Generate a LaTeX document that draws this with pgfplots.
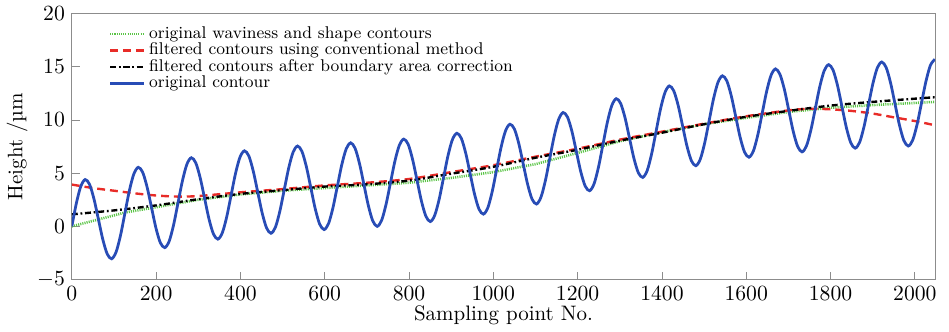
\documentclass[border=0pt]{standalone}
\usepackage{pgfplots}
\pgfplotsset{compat=1.18}
\definecolor{cblue}{RGB}{40,76,182}
\definecolor{cred}{RGB}{232,44,40}
\definecolor{cgreen}{RGB}{90,196,70}
\definecolor{cframe}{RGB}{140,140,140}
\begin{document}
\begin{tikzpicture}
\begin{axis}[
  scale only axis,
  width=436.5pt, height=134.5pt,
  xmin=0, xmax=2048, ymin=-5, ymax=20,
  xtick={0,200,...,2000}, ytick={-5,0,5,10,15,20},
  /pgf/number format/1000 sep={},
  tick pos=left, tick align=inside,
  major tick length=4pt,
  axis line style={cframe},
  every tick/.style={cframe},
  xlabel={Sampling point No.},
  ylabel={Height /µm},
  xlabel style={yshift=4pt},
  ylabel style={yshift=-2pt},
  tick label style={font=\fontsize{10.6}{12}\selectfont},
  label style={font=\fontsize{10.6}{12}\selectfont},
  legend style={at={(0.04,0.975)}, anchor=north west, draw=none, fill=none,
    font=\fontsize{8.6}{8.6}\selectfont, row sep=-3.2pt, inner sep=1pt},
  legend cell align=left,
]
\addplot[cgreen, line width=1.3pt, dash pattern=on 0.55pt off 0.55pt] coordinates {
(0,0) (63,0.65) (126,1.3) (200,1.8) (300,2.5) (400,3.0) (500,3.35) (600,3.6)
(700,3.85) (800,4.1) (900,4.55) (1000,5.1) (1100,5.85) (1200,6.9) (1300,8.0)
(1400,8.85) (1500,9.6) (1600,10.2) (1700,10.75) (1800,11.15) (1900,11.4)
(2000,11.6) (2048,11.7)};
\addlegendentry{original waviness and shape contours}
\addplot[cred, line width=1.2pt, dash pattern=on 4pt off 2.5pt, smooth] coordinates {
(0,3.93) (50,3.6) (100,3.35) (150,3.1) (200,2.9) (250,2.8) (300,2.85) (400,3.2)
(500,3.5) (600,3.85) (700,4.1) (800,4.45) (900,5.1) (1000,5.75) (1100,6.55)
(1200,7.3) (1300,8.15) (1400,8.9) (1500,9.65) (1600,10.35) (1700,10.9)
(1750,11.05) (1800,11.0) (1850,10.85) (1900,10.6) (1950,10.25) (2000,9.9) (2048,9.5)};
\addlegendentry{filtered contours using conventional method}
\addplot[black, line width=1.2pt, dash pattern=on 3pt off 1.4pt on 0.9pt off 1.4pt, smooth] coordinates {
(0,1.13) (100,1.5) (200,1.97) (300,2.55) (400,3.05) (500,3.4) (600,3.74)
(700,3.95) (800,4.3) (900,4.95) (1000,5.6) (1100,6.45) (1200,7.2) (1300,8.05)
(1400,8.8) (1500,9.6) (1600,10.3) (1700,10.85) (1800,11.35) (1900,11.7)
(2000,12.0) (2048,12.14)};
\addlegendentry{filtered contours after boundary area correction}
\addplot[cblue, line width=1.4pt, smooth] coordinates {
(0,0) (10.5,2.13) (21,3.73) (31.5,4.4) (42,3.95) (52.5,2.58) (63,0.68) (73.5,-1.23)
(84,-2.60) (94.5,-3.05) (105,-2.41) (115.5,-0.85) (126,1.25) (136.5,3.35) (147,4.91)
(157.5,5.55) (168,5.09) (178.5,3.70) (189,1.78) (199.5,-0.15) (210,-1.54) (220.5,-2.0)
(231,-1.39) (241.5,0.15) (252,2.23) (262.5,4.30) (273,5.84) (283.5,6.45) (294,5.97)
(304.5,4.57) (315,2.63) (325.5,0.68) (336,-0.72) (346.5,-1.2) (357,-0.61) (367.5,0.9)
(378,2.95) (388.5,5.0) (399,6.51) (409.5,7.1) (420,6.61) (430.5,5.18) (441,3.23)
(451.5,1.27) (462,-0.15) (472.5,-0.65) (483,-0.08) (493.5,1.42) (504,3.45) (514.5,5.48)
(525,6.98) (535.5,7.55) (546,7.04) (556.5,5.60) (567,3.63) (577.5,1.65) (588,0.21)
(598.5,-0.3) (609,0.26) (619.5,1.75) (630,3.78) (640.5,5.80) (651,7.29) (661.5,7.85)
(672,7.34) (682.5,5.90) (693,3.93) (703.5,1.95) (714,0.51) (724.5,0.0) (735,0.57)
(745.5,2.07) (756,4.1) (766.5,6.13) (777,7.63) (787.5,8.2) (798,7.71) (808.5,6.28)
(819,4.33) (829.5,2.37) (840,0.95) (850.5,0.45) (861,1.04) (871.5,2.55) (882,4.6)
(892.5,6.65) (903,8.16) (913.5,8.75) (924,8.28) (934.5,6.88) (945,4.95) (955.5,3.02)
(966,1.62) (976.5,1.15) (987,1.76) (997.5,3.30) (1008,5.38) (1018.5,7.45) (1029,8.99)
(1039.5,9.6) (1050,9.15) (1060.5,7.77) (1071,5.85) (1081.5,3.93) (1092,2.55) (1102.5,2.1)
(1113,2.74) (1123.5,4.3) (1134,6.4) (1144.5,8.5) (1155,10.06) (1165.5,10.7) (1176,10.27)
(1186.5,8.92) (1197,7.03) (1207.5,5.13) (1218,3.78) (1228.5,3.35) (1239,4.0) (1249.5,5.57)
(1260,7.68) (1270.5,9.78) (1281,11.35) (1291.5,12.0) (1302,11.56) (1312.5,10.2) (1323,8.3)
(1333.5,6.4) (1344,5.04) (1354.5,4.6) (1365,5.24) (1375.5,6.8) (1386,8.9) (1396.5,11.0)
(1407,12.56) (1417.5,13.2) (1428,12.74) (1438.5,11.37) (1449,9.45) (1459.5,7.53)
(1470,6.16) (1480.5,5.7) (1491,6.31) (1501.5,7.85) (1512,9.93) (1522.5,12.0) (1533,13.54)
(1543.5,14.15) (1554,13.67) (1564.5,12.27) (1575,10.33) (1585.5,8.38) (1596,6.98)
(1606.5,6.5) (1617,7.09) (1627.5,8.6) (1638,10.65) (1648.5,12.7) (1659,14.21) (1669.5,14.8)
(1680,14.29) (1690.5,12.87) (1701,10.9) (1711.5,8.93) (1722,7.51) (1732.5,7.0) (1743,7.57)
(1753.5,9.07) (1764,11.1) (1774.5,13.13) (1785,14.63) (1795.5,15.2) (1806,14.69)
(1816.5,13.25) (1827,11.28) (1837.5,9.3) (1848,7.86) (1858.5,7.35) (1869,7.9) (1879.5,9.38)
(1890,11.4) (1900.5,13.42) (1911,14.9) (1921.5,15.45) (1932,14.93) (1942.5,13.48)
(1953,11.5) (1963.5,9.52) (1974,8.07) (1984.5,7.55) (1995,8.11) (2005.5,9.6) (2016,11.63)
(2026.5,13.65) (2037,15.14) (2047.5,15.7)};
\addlegendentry{original contour}
\end{axis}
\path (current bounding box.east) ++(3pt,0) coordinate (extra);
\useasboundingbox (current bounding box.south west) rectangle (current bounding box.north east -| extra);
\end{tikzpicture}
\end{document}
